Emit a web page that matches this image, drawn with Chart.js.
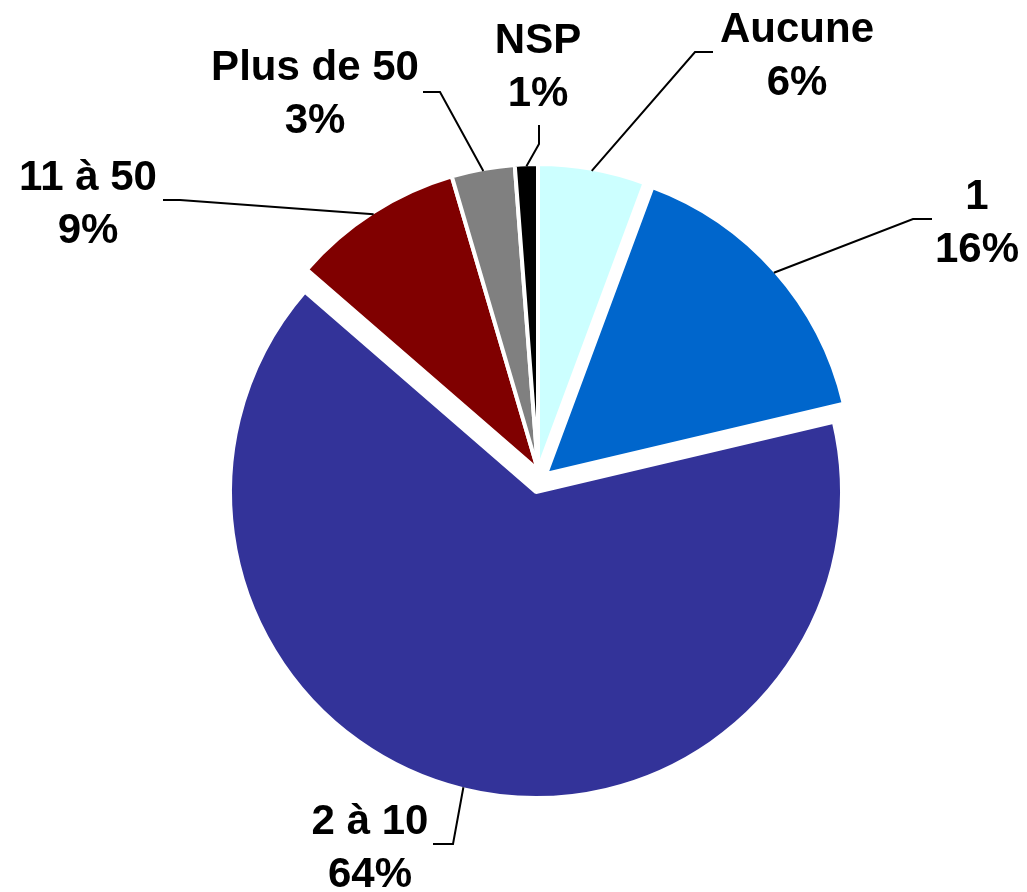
<!DOCTYPE html>
<html lang="fr">
<head>
  <meta charset="UTF-8">
  <title>Répartition</title>
  <script src="https://cdn.jsdelivr.net/npm/chart.js"></script>
  <style>
    body { margin: 0; background: #fff; }
    #wrap { width: 1027px; height: 892px; position: relative; }
  </style>
</head>
<body>
<div id="wrap"><canvas id="myChart"></canvas></div>

<script>
  // Données (sens horaire depuis midi)
  var categories = ['Aucune', '1', '2 à 10', '11 à 50', 'Plus de 50', 'NSP'];
  var shares = [5.6, 15.5, 64.4, 9.0, 3.3, 1.2];
  var colors = ['#CCFFFF', '#0066CC', '#333399', '#800000', '#808080', '#000000'];
  // décalage des parts détachées (px)
  var explodeShift = [[0, 0], [8, 4], [-2, 22], [0, 0], [0, 0], [0, 0]];

  // Position des étiquettes par rapport au centre du camembert
  // text: [x du centre du texte, ligne de base 1re ligne], elbow / end: coude et fin du trait
  var labelPlacement = [
    { text: [259, -428], elbow: [157, -418], end: [175, -418] },
    { text: [439, -261], elbow: [375, -251], end: [394, -251] },
    { text: [-168, 364], elbow: [-85, 374], end: [-105, 374] },
    { text: [-450, -280], elbow: [-358, -270], end: [-375, -270] },
    { text: [-223, -390], elbow: [-98, -378], end: [-115, -378] },
    { text: [0, -417], elbow: [1, -326], end: [1, -345] }
  ];

  var explodePlugin = {
    id: 'explode',
    beforeDatasetDraw: function(chart, args) {
      var ctx = chart.ctx;
      args.meta.data.forEach(function(arc, i) {
        ctx.save();
        ctx.translate(explodeShift[i][0], explodeShift[i][1]);
        arc.draw(ctx);
        ctx.restore();
      });
      return false;
    }
  };

  var labelPlugin = {
    id: 'pieLabels',
    afterDraw: function(chart) {
      var ctx = chart.ctx;
      var meta = chart.getDatasetMeta(0);
      var area = chart.chartArea;
      var cx = (area.left + area.right) / 2;
      var cy = (area.top + area.bottom) / 2;
      ctx.save();
      ctx.font = 'bold 42px "Liberation Sans", Arial, sans-serif';
      ctx.textAlign = 'center';
      ctx.textBaseline = 'alphabetic';
      ctx.fillStyle = '#000';
      ctx.strokeStyle = '#000';
      ctx.lineWidth = 2;
      meta.data.forEach(function(arc, i) {
        var p = arc.getProps(['x', 'y', 'startAngle', 'endAngle', 'outerRadius']);
        var half = (p.startAngle + p.endAngle) / 2;
        var r = p.outerRadius - 2;
        var ax = p.x + explodeShift[i][0] + Math.cos(half) * r;
        var ay = p.y + explodeShift[i][1] + Math.sin(half) * r;
        var pl = labelPlacement[i];
        ctx.beginPath();
        ctx.moveTo(ax, ay);
        ctx.lineTo(cx + pl.elbow[0], cy + pl.elbow[1]);
        ctx.lineTo(cx + pl.end[0], cy + pl.end[1]);
        ctx.stroke();
        ctx.fillText(categories[i], cx + pl.text[0], cy + pl.text[1]);
        ctx.fillText(Math.round(shares[i]) + '%', cx + pl.text[0], cy + pl.text[1] + 53);
      });
      ctx.restore();
    }
  };

  var ctx = document.getElementById('myChart').getContext('2d');
  var myChart = new Chart(ctx, {
    type: 'pie',
    data: {
      labels: categories,
      datasets: [{
        data: shares,
        backgroundColor: colors,
        borderColor: '#ffffff',
        borderWidth: 4,
        radius: 306
      }]
    },
    options: {
      responsive: true,
      maintainAspectRatio: false,
      animation: false,
      events: [],
      layout: { padding: { left: 49, top: 48 } },
      plugins: {
        legend: { display: false },
        tooltip: { enabled: false }
      }
    },
    plugins: [explodePlugin, labelPlugin]
  });
</script>
</body>
</html>
